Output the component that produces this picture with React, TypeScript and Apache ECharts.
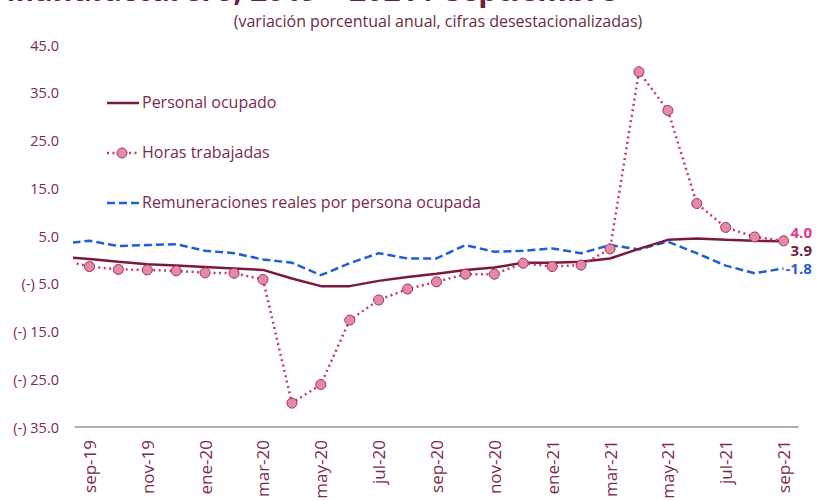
import React, { useEffect, useRef } from "react";
import * as echarts from "echarts";

const months = ["sep-19","oct-19","nov-19","dic-19","ene-20","feb-20","mar-20","abr-20","may-20","jun-20","jul-20","ago-20","sep-20","oct-20","nov-20","dic-20","ene-21","feb-21","mar-21","abr-21","may-21","jun-21","jul-21","ago-21","sep-21"];
const personal = [0.2,-0.4,-0.9,-1.2,-1.5,-1.8,-2.1,-3.9,-5.5,-5.5,-4.4,-3.6,-2.9,-2.1,-1.6,-0.6,-0.6,-0.4,0.3,2.3,4.2,4.5,4.2,4.0,3.9];
const horas = [-1.4,-2.0,-2.1,-2.3,-2.7,-2.8,-4.1,-30.0,-26.1,-12.6,-8.4,-6.1,-4.6,-3.0,-3.0,-0.7,-1.4,-1.1,2.3,39.4,31.3,11.8,6.8,4.8,4.0];
const remun = [4.0,2.9,3.1,3.3,1.9,1.4,0.1,-0.6,-3.2,-0.7,1.4,0.3,0.3,3.1,1.7,1.9,2.4,1.4,3.1,2.2,3.8,1.4,-1.2,-2.8,-1.8];
// values of the month before sep-19 (ago-19), whose segment is partly visible at the left edge
const leadIn = { personal: 0.6, horas: 0.0, remun: 3.4 };
const yTicks = [-35, -25, -15, -5, 5, 15, 25, 35, 45];

const FONT = "Open Sans";
const TEXT = "#7d2a4a";

function withLead(arr: number[], lead: number) {
  return [[-1, lead], ...arr.map((v, i) => [i, v])];
}

export default function App() {
  const ref = useRef<HTMLDivElement>(null);
  useEffect(() => {
    if (!ref.current) return;
    const chart = echarts.init(ref.current, undefined, { renderer: "svg" });
    const horasData: any[] = withLead(horas, leadIn.horas).map((p, i) =>
      i === 0 ? { value: p, symbol: "none" } : { value: p }
    );
    chart.setOption({
      animation: false,
      textStyle: { fontFamily: FONT },
      grid: { left: 75, right: 25, top: 45, bottom: 73, containLabel: false, outerBoundsMode: "none" },
      graphic: [
        {
          type: "text", x: 617, y: -26,
          style: { text: "Manufacturero, 2019 – 2021 / septiembre", font: `bold 30px ${FONT}`, fill: "#6e1f3a", align: "right", verticalAlign: "top" },
        },
        {
          type: "text", x: 438, y: 21,
          style: { text: "(variación porcentual anual, cifras desestacionalizadas)", font: `16px ${FONT}`, fill: "#6e2a40", align: "center", verticalAlign: "middle" },
        },
        { type: "line", shape: { x1: 107, y1: 103, x2: 139, y2: 103 }, style: { stroke: "#7a1a3a", lineWidth: 2.5 } },
        { type: "text", x: 142, y: 102, style: { text: "Personal ocupado", font: `16px ${FONT}`, fill: TEXT, verticalAlign: "middle" } },
        { type: "line", shape: { x1: 107, y1: 153, x2: 139, y2: 153 }, style: { stroke: "#c8396a", lineWidth: 2.5, lineDash: [2, 3.5] } },
        { type: "circle", shape: { cx: 122, cy: 153, r: 5 }, style: { fill: "#e38aa4", stroke: "#a0304f", lineWidth: 1 } },
        { type: "text", x: 142, y: 152, style: { text: "Horas trabajadas", font: `16px ${FONT}`, fill: TEXT, verticalAlign: "middle" } },
        { type: "line", shape: { x1: 107, y1: 203, x2: 139, y2: 203 }, style: { stroke: "#1f5fd6", lineWidth: 2.5, lineDash: [8, 4] } },
        { type: "text", x: 142, y: 202, style: { text: "Remuneraciones reales por persona ocupada", font: `16px ${FONT}`, fill: TEXT, verticalAlign: "middle" } },
      ],
      xAxis: [
        {
          type: "category", data: months, boundaryGap: true, position: "bottom",
          axisLine: { show: false }, axisTick: { show: false },
          axisLabel: { rotate: 90, interval: 1, color: TEXT, fontSize: 17, margin: 13, fontFamily: FONT },
        },
        {
          type: "value", min: -0.5, max: 24.5, position: "bottom",
          axisLine: { show: true, onZero: true, lineStyle: { color: "#a89090", width: 1.5 } },
          axisTick: { show: false }, axisLabel: { show: false }, splitLine: { show: false },
        },
      ],
      yAxis: {
        type: "value", min: -35, max: 45, interval: 10,
        axisLine: { show: false }, axisTick: { show: false }, splitLine: { show: false },
        axisLabel: {
          color: TEXT, fontSize: 14.5, margin: 16, fontFamily: FONT,
          customValues: yTicks,
          formatter: (v: number) => (v < 0 ? "(-) " + Math.abs(v).toFixed(1) : v.toFixed(1)),
        },
      },
      series: [
        {
          name: "Remuneraciones reales por persona ocupada", type: "line", xAxisIndex: 1, clip: true,
          data: withLead(remun, leadIn.remun), showSymbol: false, symbol: "none",
          lineStyle: { color: "#1f5fd6", width: 2.5, type: [8, 4] },
          endLabel: { show: true, formatter: (p: any) => p.value[1].toFixed(1), color: "#1f5fd6", fontWeight: "bold", fontSize: 15, distance: 2, fontFamily: FONT },
          z: 2,
        },
        {
          name: "Personal ocupado", type: "line", xAxisIndex: 1, clip: true,
          data: withLead(personal, leadIn.personal), showSymbol: false, symbol: "none",
          lineStyle: { color: "#7a1a3a", width: 2.5 },
          endLabel: { show: true, formatter: (p: any) => p.value[1].toFixed(1), color: "#6e1f3a", fontWeight: "bold", fontSize: 15, distance: 7, offset: [0, 9], fontFamily: FONT },
          z: 3,
        },
        {
          name: "Horas trabajadas", type: "line", xAxisIndex: 1, clip: true,
          data: horasData, symbol: "circle", symbolSize: 10, showSymbol: true,
          itemStyle: { color: "#e38aa4", borderColor: "#a0304f", borderWidth: 1 },
          lineStyle: { color: "#c8396a", width: 2.5, type: [2, 3.5] },
          endLabel: { show: true, formatter: (p: any) => p.value[1].toFixed(1), color: "#e8348a", fontWeight: "bold", fontSize: 15, distance: 7, offset: [0, -9], fontFamily: FONT },
          z: 4,
        },
      ],
    });
    return () => chart.dispose();
  }, []);
  return <div ref={ref} style={{ width: 823, height: 500, position: "absolute", left: 0, top: 0 }} />;
}
